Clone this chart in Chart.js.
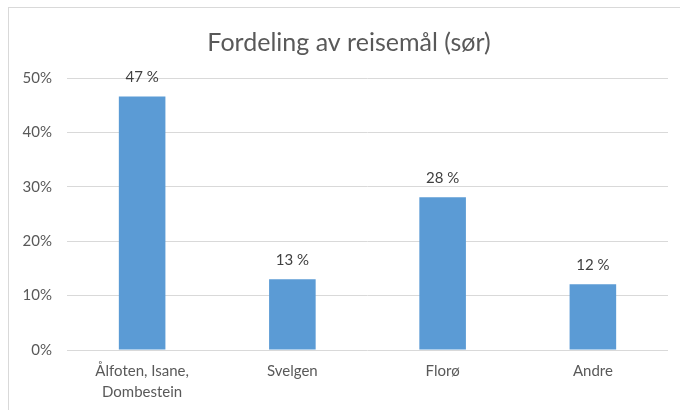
<!DOCTYPE html>
<html>
<head>
<meta charset="utf-8">
<script src="https://cdn.jsdelivr.net/npm/chart.js@4"></script>
<style>
	html, body { margin: 0; padding: 0; background: #fff; }
	#wrap { width: 680px; height: 410px; position: relative; }
</style>
</head>
<body>
<div id="wrap"><canvas id="reiseChart" width="680" height="410"></canvas></div>
<script>
const chartTitle = 'Fordeling av reisemål (sør)';
const destinations = [['Ålfoten, Isane,', 'Dombestein'], 'Svelgen', 'Florø', 'Andre'];
const shares = [46.6, 13.0, 28.1, 12.1];
const yTicks = [0, 10, 20, 30, 40, 50];

const fontFamily = 'Lato, "Open Sans", sans-serif';

// outer frame of the chart object (only top and left edges are visible) + title
const framePlugin = {
	id: 'frame',
	beforeDraw(chart) {
		const ctx = chart.ctx;
		ctx.save();
		ctx.strokeStyle = '#d9d9d9';
		ctx.lineWidth = 1;
		ctx.strokeRect(8.5, 7.5, 760, 500);
		// title is centred on the whole chart object, not the canvas
		ctx.font = '25px ' + fontFamily;
		ctx.fillStyle = '#595959';
		ctx.textAlign = 'center';
		ctx.textBaseline = 'middle';
		ctx.fillText(chartTitle, 349, 43);
		ctx.restore();
	}
};

// value labels above the bars
const valueLabels = {
	id: 'valueLabels',
	afterDatasetsDraw(chart) {
		const ctx = chart.ctx;
		const meta = chart.getDatasetMeta(0);
		ctx.save();
		ctx.font = '15px ' + fontFamily;
		ctx.fillStyle = '#404040';
		ctx.textAlign = 'center';
		ctx.textBaseline = 'middle';
		meta.data.forEach((bar, i) => {
			ctx.fillText(Math.round(shares[i]) + ' %', bar.x, bar.y - 19);
		});
		ctx.restore();
	}
};

const ctx = document.getElementById('reiseChart').getContext('2d');
new Chart(ctx, {
	type: 'bar',
	data: {
		labels: destinations,
		datasets: [{
			data: shares,
			backgroundColor: '#5b9bd5',
			borderWidth: 0,
			categoryPercentage: 1,
			barPercentage: 0.31
		}]
	},
	options: {
		responsive: false,
		animation: false,
		layout: { padding: { left: 0, right: 12, top: 78, bottom: 0 } },
		plugins: {
			legend: { display: false },
			tooltip: { enabled: false },
			title: { display: false }
		},
		scales: {
			x: {
				grid: { display: false, drawTicks: false },
				border: { display: false },
				ticks: {
					color: '#595959',
					font: { family: fontFamily, size: 15, lineHeight: 1.4 },
					padding: 11,
					maxRotation: 0
				},
				afterFit(scale) { scale.height = 60; }
			},
			y: {
				min: 0,
				max: 50,
				afterBuildTicks(scale) { scale.ticks = yTicks.map(v => ({ value: v })); },
				grid: { color: '#d9d9d9', drawTicks: false },
				border: { display: false },
				ticks: {
					color: '#595959',
					font: { family: fontFamily, size: 15 },
					padding: 15,
					callback: v => v + '%'
				},
				afterFit(scale) { scale.width = 67; }
			}
		}
	},
	plugins: [framePlugin, valueLabels]
});
</script>
</body>
</html>
